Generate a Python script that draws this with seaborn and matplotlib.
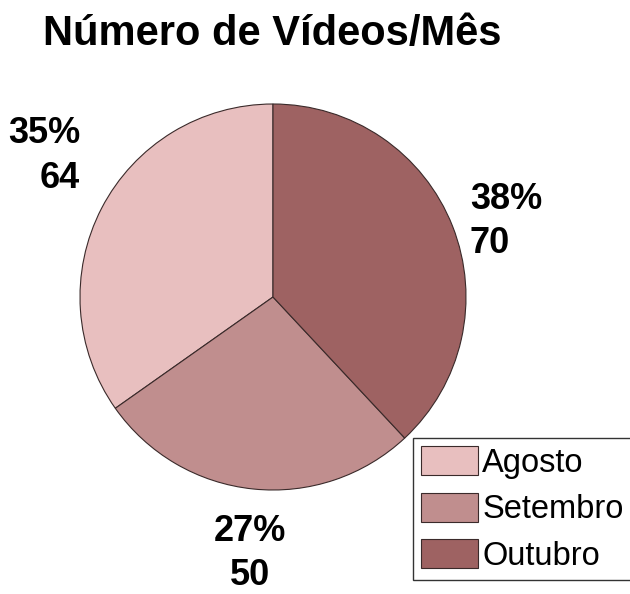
import matplotlib
matplotlib.use("Agg")
import matplotlib.pyplot as plt
import seaborn as sns

# dados do gráfico
meses = ["Agosto", "Setembro", "Outubro"]
videos = [64, 50, 70]
cores = ["#E8BFBF", "#C08E8E", "#9E6262"]

sns.set_theme(style="white")
plt.rcParams['font.family'] = ['Liberation Sans', 'DejaVu Sans']
plt.rcParams['text.color'] = 'black'

fig = plt.figure(figsize=(6.3, 5.94), dpi=100)
# eixo quadrado em pixels, centro do pie em (273, 297), raio 193
ax = fig.add_axes([80 / 630, 104 / 594, 386 / 630, 386 / 594])

paleta = sns.color_palette(cores)
wedges, _ = ax.pie(videos, colors=paleta, startangle=90, counterclock=True,
                   radius=1.0, wedgeprops={'edgecolor': '#3a2a2a', 'linewidth': 0.8})
ax.set_xlim(-1, 1)
ax.set_ylim(-1, 1)
ax.set_axis_off()

total = sum(videos)
# posições dos rótulos (x, y, alinhamento)
pos_rotulos = [(-1.0, 0.73, 'right'), (-0.12, -1.33, 'center'), (1.02, 0.39, 'left')]
for v, (x, y, ha) in zip(videos, pos_rotulos):
    ax.text(x, y, f"{round(v / total * 100)}%\n{v}", ha=ha, va='center', color='black',
            fontsize=26, fontweight='bold', linespacing=1.35, ma=ha)

fig.text(272 / 630, 1 - 34 / 594, "Número de Vídeos/Mês", ha='center', va='center',
         fontsize=30, fontweight='bold', color='black')

leg = fig.legend(wedges, meses, loc='upper left', bbox_to_anchor=(413 / 630, 1 - 438 / 594),
                 fontsize=23.5, frameon=True, fancybox=False, shadow=False,
                 handlelength=1.75, handleheight=1.0, handletextpad=0.12,
                 labelspacing=0.42, borderpad=0.25, borderaxespad=0)
leg.get_frame().set_edgecolor('black')
leg.get_frame().set_linewidth(1.0)
for t in leg.get_texts():
    t.set_color('black')

fig.savefig("out.png", dpi=100)
